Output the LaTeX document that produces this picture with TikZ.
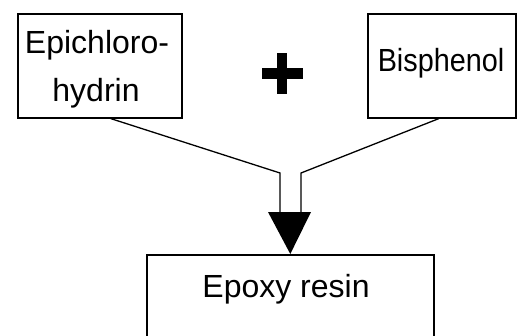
\documentclass[tikz,border=0pt]{standalone}
\usepackage{fontspec}
\setmainfont{Liberation Sans}
\usetikzlibrary{calc}
\begin{document}
\begin{tikzpicture}[x=1pt,y=-1pt,
  box/.style={draw, line width=1.6pt, inner sep=0pt, anchor=north west},
  feed/.style={line width=1.3pt},
  txt/.style={font=\fontsize{32}{38}\selectfont, anchor=base, inner sep=0pt}]
\useasboundingbox (0,0) rectangle (518,335);
\clip (0,0) rectangle (518,335);

% reactant and product boxes
\node[box, minimum width=164pt, minimum height=104pt] (epi) at (17,13) {};
\node[box, minimum width=148pt, minimum height=104pt] (bis) at (367,13) {};
\node[box, minimum width=287pt, minimum height=110pt] (res) at (146,254) {};

% labels
\node[txt] (epiA) at (97,53) {Epichloro-};
\node[txt] (epiB) at (96,101) {hydrin};
\node[txt] (bisA) at (441,71) {\scalebox{0.9}[1]{Bisphenol}};
\node[txt] (resA) at (286,297) {Epoxy resin};

% plus sign
\fill (262,68) rectangle (303,79);
\fill (277,53) rectangle (287,94);

% feed lines merging into the arrow
\coordinate (lstart) at ($(epi.south)+(11,0)$);
\coordinate (rstart) at ($(bis.south)+(-3,0)$);
\coordinate (ljoin) at (280,173);
\coordinate (rjoin) at (301,173);
\coordinate (lfoot) at (280,212);
\coordinate (rfoot) at (301,212);
\draw[feed] (lstart) -- (ljoin) -- (lfoot);
\draw[feed] (rstart) -- (rjoin) -- (rfoot);

% arrow head
\fill (268,212) -- (311,212) -- (res.north) -- cycle;
\end{tikzpicture}
\end{document}
